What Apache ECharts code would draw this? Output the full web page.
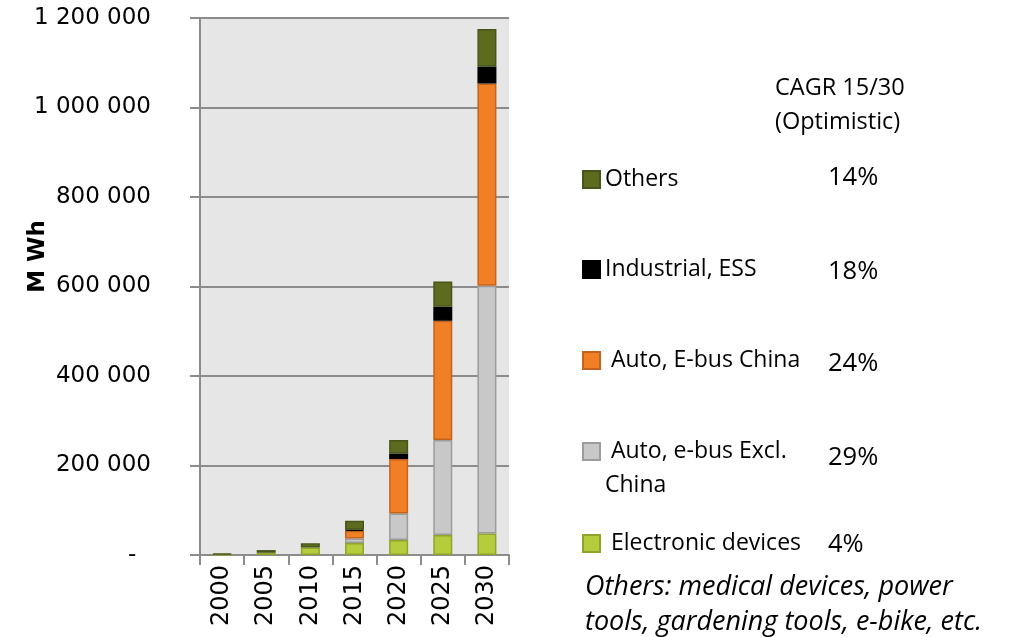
<!DOCTYPE html>
<html>
<head>
<meta charset="utf-8">
<script src="https://cdn.jsdelivr.net/npm/echarts@6/dist/echarts.min.js"></script>
<style>
html,body{margin:0;padding:0;background:#fff;}
#chart{width:1010px;height:637px;}
</style>
</head>
<body>
<div id="chart"></div>
<script>
// ---- data ----
var years = ['2000', '2005', '2010', '2015', '2020', '2025', '2030'];
var electronicDevices = [1500, 5000, 17000, 27000, 33500, 44700, 48300];
var autoExclChina = [null, null, null, 10000, 59400, 212300, 553500];
var autoChina = [null, null, null, 17000, 121600, 266600, 452000];
var industrialESS = [null, null, null, 2500, 12500, 31300, 38000];
var others = [1500, 6000, 9000, 20000, 30000, 56500, 83600];
var seriesNames = ['Electronic devices', 'Auto, e-bus Excl. China', 'Auto, E-bus China', 'Industrial, ESS', 'Others'];
var cagr = ['4%', '29%', '24%', '18%', '14%'];
var yTicks = [0, 200000, 400000, 600000, 800000, 1000000, 1200000];

var chart = echarts.init(document.getElementById('chart'), null, {renderer: 'canvas'});

var fills = ['#b5cc3c', '#c8c8c8', '#f07f26', '#000000', '#5d6b1f'];
var borders = ['#90a32a', '#9c9c9c', '#c4641c', '#000000', '#48551a'];
var seriesData = [electronicDevices, autoExclChina, autoChina, industrialESS, others];

var series = seriesData.map(function (d, i) {
  return {
    name: seriesNames[i],
    type: 'bar',
    stack: 'total',
    barWidth: 19,
    data: d,
    itemStyle: {color: fills[i], borderColor: borders[i], borderWidth: 1.5},
    emphasis: {disabled: true}
  };
});

function fmt(v) {
  if (v === 0) return '-  ';
  return String(v).replace(/\B(?=(\d{3})+(?!\d))/g, ' ');
}

var legendFont = {fontFamily: 'Open Sans', fontSize: 23, color: '#000'};
var legendTops = {'Others': 168, 'Industrial, ESS': 258, 'Auto, E-bus China': 349, 'Auto, e-bus Excl. China': 440, 'Electronic devices': 532};
var legendLabels = {'Others': 'Others', 'Industrial, ESS': 'Industrial, ESS', 'Auto, E-bus China': ' Auto, E-bus China', 'Auto, e-bus Excl. China': ' Auto, e-bus Excl.', 'Electronic devices': ' Electronic devices'};
var legends = seriesNames.slice().reverse().map(function (n) {
  return {
    data: [n],
    left: 582,
    top: legendTops[n],
    padding: 0,
    itemWidth: 17,
    itemHeight: 17,
    icon: 'rect',
    selectedMode: false,
    textStyle: legendFont,
    formatter: function () { return legendLabels[n]; }
  };
});

var pctY = {'Others': 178, 'Industrial, ESS': 272, 'Auto, E-bus China': 364, 'Auto, e-bus Excl. China': 458, 'Electronic devices': 545};
var graphics = [
  {type: 'text', style: {text: 'CAGR 15/30', x: 775, y: 88, font: '23.5px "Open Sans"', fill: '#000', verticalAlign: 'middle'}},
  {type: 'text', style: {text: '(Optimistic)', x: 775, y: 122, font: '23.5px "Open Sans"', fill: '#000', verticalAlign: 'middle'}},
  {type: 'text', style: {text: 'China', x: 605, y: 485, font: '23px "Open Sans"', fill: '#000', verticalAlign: 'middle'}},
  {type: 'text', style: {text: 'Others: medical devices, power', x: 585, y: 587, font: 'italic 27px "Open Sans"', fill: '#000', verticalAlign: 'middle'}},
  {type: 'text', style: {text: 'tools, gardening tools, e-bike, etc.', x: 585, y: 622, font: 'italic 27px "Open Sans"', fill: '#000', verticalAlign: 'middle'}}
];
seriesNames.forEach(function (n, i) {
  graphics.push({type: 'text', style: {text: cagr[i], x: 828, y: pctY[n], font: '25.5px "Open Sans"', fill: '#000', verticalAlign: 'middle'}});
});

var option = {
  animation: false,
  backgroundColor: '#ffffff',
  grid: {left: 200, right: 501, top: 18, bottom: 82, show: true, backgroundColor: '#e6e6e6', borderWidth: 0, containLabel: false},
  legend: legends,
  graphic: graphics,
  xAxis: {
    type: 'category',
    data: years,
    boundaryGap: true,
    axisLine: {show: true, lineStyle: {color: '#8c8c8c', width: 2}},
    axisTick: {show: true, length: 10, lineStyle: {color: '#8c8c8c', width: 2}},
    axisLabel: {rotate: 90, margin: 10, fontFamily: 'DejaVu Sans', fontSize: 24, color: '#000'},
    splitLine: {show: false}
  },
  yAxis: {
    type: 'value',
    min: yTicks[0],
    max: yTicks[yTicks.length - 1],
    interval: yTicks[1] - yTicks[0],
    name: 'M Wh',
    nameLocation: 'middle',
    nameRotate: 90,
    nameGap: 150,
    nameMoveOverlap: false,
    nameTextStyle: {fontFamily: 'DejaVu Sans', fontWeight: 'bold', fontSize: 23, color: '#000', padding: [0, 0, 0, 60]},
    axisLine: {show: true, lineStyle: {color: '#8c8c8c', width: 2}},
    axisTick: {show: true, length: 10, lineStyle: {color: '#8c8c8c', width: 2}},
    axisLabel: {margin: 49, fontFamily: 'DejaVu Sans', fontSize: 23, color: '#000', formatter: fmt},
    splitLine: {show: true, lineStyle: {color: '#8c8c8c', width: 2}}
  },
  series: series
};
chart.setOption(option);
</script>
</body>
</html>
